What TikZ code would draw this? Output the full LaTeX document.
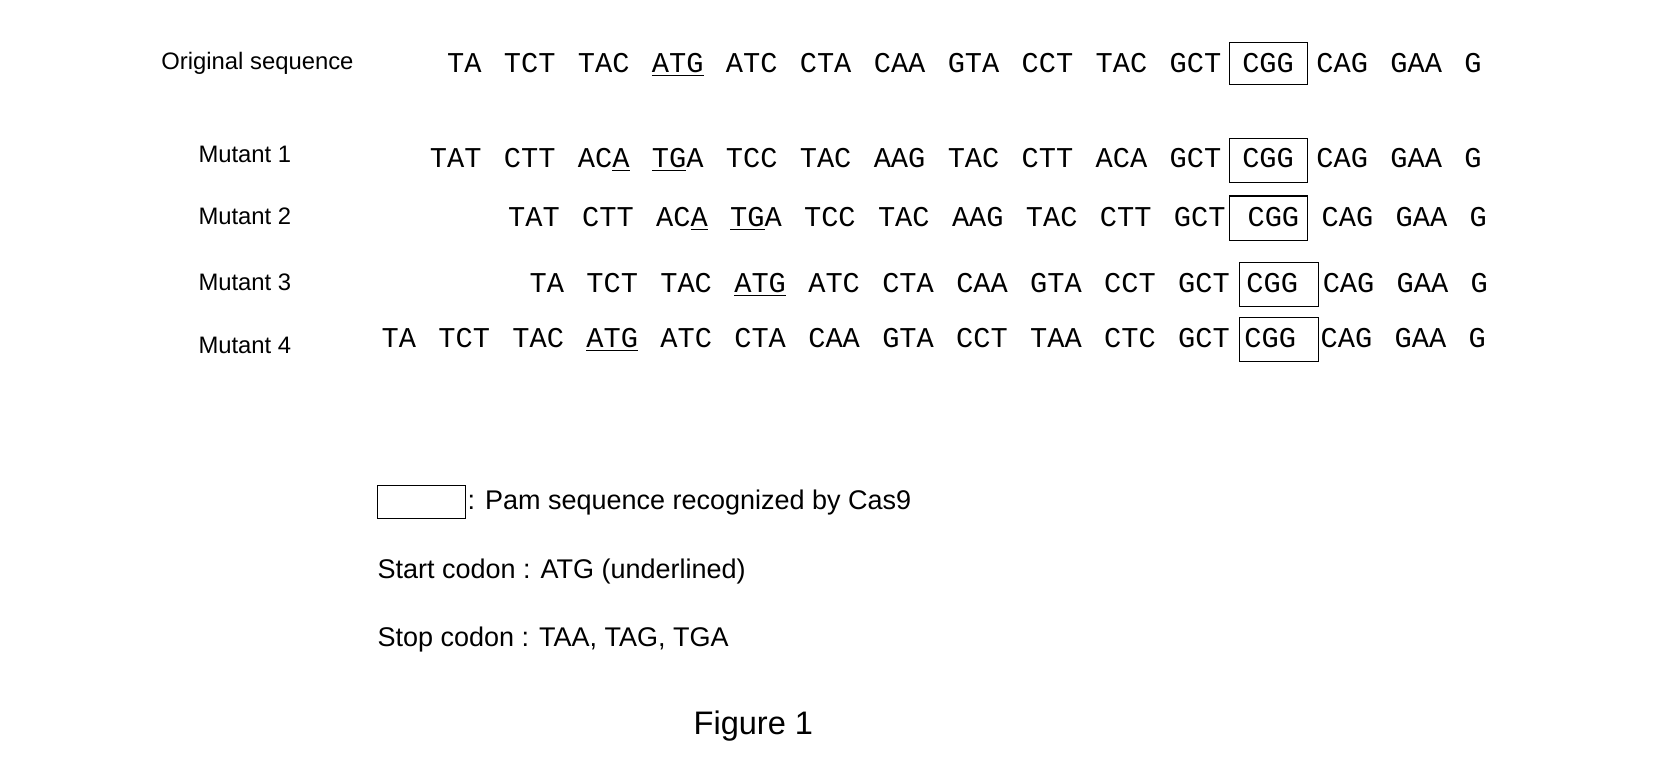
\documentclass[tikz,border=0pt]{standalone}
\usepackage{fontspec}
\setmainfont{Liberation Sans}
\newfontfamily\seqfont[WordSpace=1.3]{Liberation Mono}
\usetikzlibrary{positioning}
\tikzset{
  seq/.style={font=\seqfont\fontsize{15.4}{18}\selectfont, inner sep=0pt, anchor=base east},
  rest/.style={font=\seqfont\fontsize{15.4}{18}\selectfont, inner sep=0pt, anchor=base west},
  lab/.style={font=\fontsize{12.8}{15}\selectfont, inner sep=0pt, anchor=base west},
  leg/.style={font=\fontsize{14.5}{17}\selectfont, inner sep=0pt, anchor=base west},
  pam/.style={draw, line width=0.6pt}
}
\begin{document}
\begin{tikzpicture}[x=0.02cm, y=-0.02cm]
        \useasboundingbox (0,0) rectangle (1560,732);
        % labels
        \node[lab] (l0) at (152,66) {Original sequence};
        \node[lab] (l1) at (187,153) {Mutant 1};
        \node[lab] (l2) at (187,212) {Mutant 2};
        \node[lab] (l3) at (187,274) {Mutant 3};
        \node[lab] (l4) at (187,334) {Mutant 4};
        % PAM boxes
        \draw[pam] (1160,40) rectangle (1234,80);
        \draw[pam] (1160,131) rectangle (1234,172);
        \draw[pam] (1160,185) rectangle (1234,227);
        \draw[pam] (1170,248) rectangle (1244,289);
        \draw[pam] (1170,300) rectangle (1244,341);
        % original
        \node[seq] (s0) at (1153,68) {TA TCT TAC \underline{ATG} ATC CTA CAA GTA CCT TAC GCT};
        \node[rest] (p0) at (1172,68) {CGG};
        \node[rest] (r0) at (1242,68) {CAG GAA G};
        % mutant 1
        \node[seq] (s1) at (1153,158) {TAT CTT AC\underline{A} \underline{TG}A TCC TAC AAG TAC CTT ACA GCT};
        \node[rest] (p1) at (1172,158) {CGG};
        \node[rest] (r1) at (1242,158) {CAG GAA G};
        % mutant 2
        \node[seq] (s2) at (1157,214) {TAT CTT AC\underline{A} \underline{TG}A TCC TAC AAG TAC CTT GCT};
        \node[rest] (p2) at (1177,214) {CGG};
        \node[rest] (r2) at (1247,214) {CAG GAA G};
        % mutant 3
        \node[seq] (s3) at (1161,276) {TA TCT TAC \underline{ATG} ATC CTA CAA GTA CCT GCT};
        \node[rest] (p3) at (1176,276) {CGG};
        \node[rest] (r3) at (1248,276) {CAG GAA G};
        % mutant 4
        \node[seq] (s4) at (1161,328) {TA TCT TAC \underline{ATG} ATC CTA CAA GTA CCT TAA CTC GCT};
        \node[rest] (p4) at (1174,328) {CGG};
        \node[rest] (r4) at (1246,328) {CAG GAA G};
        % legend
        \draw[pam] (356,458) rectangle (439,489);
        \node[leg] (k1) at (441,481) {: Pam sequence recognized by Cas9};
        \node[leg] (k2) at (356,546) {Start codon : ATG (underlined)};
        \node[leg] (k3) at (356,610) {Stop codon : TAA, TAG, TGA};
        \node[font=\fontsize{17.5}{20}\selectfont, inner sep=0pt, anchor=base] (fig) at (711,693) {Figure 1};
\end{tikzpicture}
\end{document}
